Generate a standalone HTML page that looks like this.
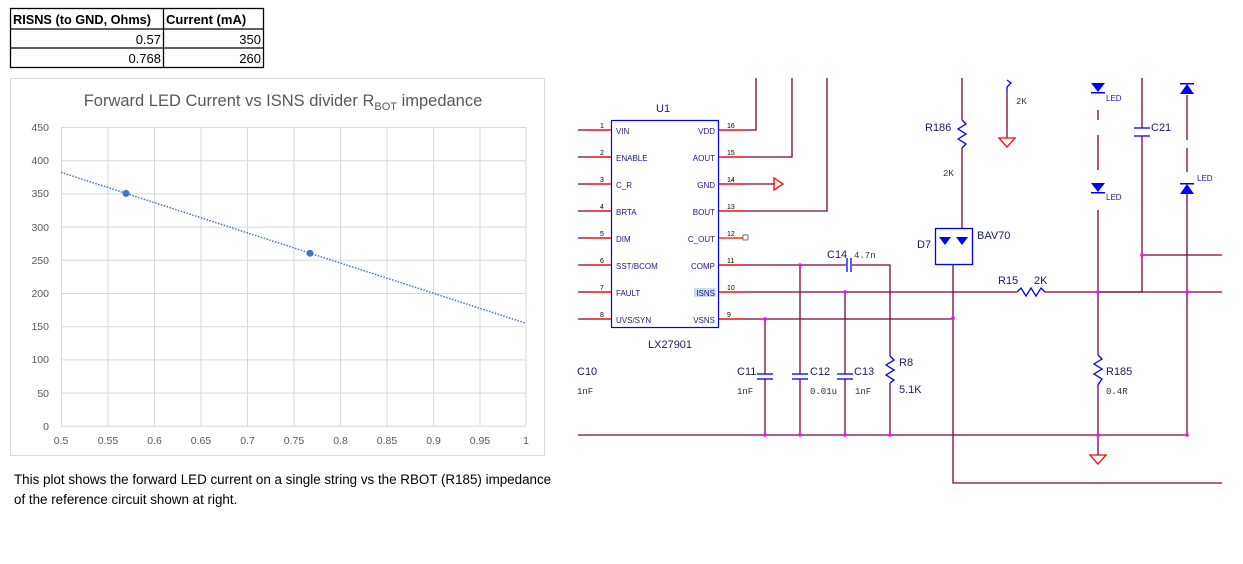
<!DOCTYPE html>
<html><head><meta charset="utf-8"><style>
body{margin:0;background:#fff;width:1243px;height:564px;overflow:hidden}
svg{display:block}
</style></head><body>
<svg width="1243" height="564" xmlns="http://www.w3.org/2000/svg" font-family="Liberation Sans, sans-serif">
<g stroke="#000" stroke-width="1.3" fill="none">
<rect x="10.5" y="8.5" width="253" height="59"/>
<line x1="10" y1="29" x2="263" y2="29"/><line x1="10" y1="48" x2="263" y2="48"/>
<line x1="163.5" y1="8" x2="163.5" y2="67"/>
</g>
<g font-size="13" fill="#000">
<text x="13" y="24" font-weight="bold" textLength="138" lengthAdjust="spacingAndGlyphs">RISNS (to GND, Ohms)</text>
<text x="166" y="24" font-weight="bold">Current (mA)</text>
<text x="161" y="44" text-anchor="end">0.57</text>
<text x="261" y="44" text-anchor="end">350</text>
<text x="161" y="63" text-anchor="end">0.768</text>
<text x="261" y="63" text-anchor="end">260</text>
</g>
<rect x="10.5" y="78.5" width="534" height="377" fill="#fff" stroke="#d9d9d9"/>
<text x="283" y="106" font-size="16.5" fill="#595959" text-anchor="middle">Forward LED Current vs ISNS divider R<tspan font-size="11" dy="4">BOT</tspan><tspan dy="-4"> impedance</tspan></text>
<g stroke="#d9d9d9" stroke-width="1">
<line x1="61" y1="127.5" x2="526" y2="127.5"/><line x1="61" y1="160.7" x2="526" y2="160.7"/>
<line x1="61" y1="193.9" x2="526" y2="193.9"/><line x1="61" y1="227.1" x2="526" y2="227.1"/>
<line x1="61" y1="260.3" x2="526" y2="260.3"/><line x1="61" y1="293.5" x2="526" y2="293.5"/>
<line x1="61" y1="326.7" x2="526" y2="326.7"/><line x1="61" y1="359.9" x2="526" y2="359.9"/>
<line x1="61" y1="393.1" x2="526" y2="393.1"/><line x1="61" y1="426.3" x2="526" y2="426.3"/>
<line x1="61.5" y1="127" x2="61.5" y2="426"/><line x1="108" y1="127" x2="108" y2="426"/>
<line x1="154.5" y1="127" x2="154.5" y2="426"/><line x1="201" y1="127" x2="201" y2="426"/>
<line x1="247.5" y1="127" x2="247.5" y2="426"/><line x1="294" y1="127" x2="294" y2="426"/>
<line x1="340.5" y1="127" x2="340.5" y2="426"/><line x1="387" y1="127" x2="387" y2="426"/>
<line x1="433.5" y1="127" x2="433.5" y2="426"/><line x1="480" y1="127" x2="480" y2="426"/>
<line x1="526" y1="127" x2="526" y2="426"/>
</g>
<g font-size="10.5" fill="#595959" text-anchor="end">
<text x="49" y="131">450</text><text x="49" y="164">400</text><text x="49" y="197">350</text>
<text x="49" y="231">300</text><text x="49" y="264">250</text><text x="49" y="297">200</text>
<text x="49" y="330">150</text><text x="49" y="363">100</text><text x="49" y="397">50</text>
<text x="49" y="430">0</text>
</g>
<g font-size="10.5" fill="#595959" text-anchor="middle">
<text x="61" y="444">0.5</text><text x="108" y="444">0.55</text><text x="154.5" y="444">0.6</text>
<text x="201" y="444">0.65</text><text x="247.5" y="444">0.7</text><text x="294" y="444">0.75</text>
<text x="340.5" y="444">0.8</text><text x="387" y="444">0.85</text><text x="433.5" y="444">0.9</text>
<text x="480" y="444">0.95</text><text x="526" y="444">1</text>
</g>
<line x1="61" y1="172.3" x2="526" y2="323.3" stroke="#4472c4" stroke-width="1.5" stroke-dasharray="1.5,1.5"/>
<circle cx="126" cy="193.4" r="3.5" fill="#4472c4"/>
<circle cx="310" cy="253.3" r="3.5" fill="#4472c4"/>
<text x="14" y="484" font-size="13.4" fill="#000">This plot shows the forward LED current on a single string vs the RBOT (R185) impedance</text>
<text x="14" y="504" font-size="13.4" fill="#000">of the reference circuit shown at right.</text>
<g stroke="#800040" stroke-width="1.3" fill="none">
<line x1="578" y1="130" x2="611" y2="130"/><line x1="578" y1="157" x2="611" y2="157"/>
<line x1="578" y1="184" x2="611" y2="184"/><line x1="578" y1="211" x2="611" y2="211"/>
<line x1="578" y1="238" x2="611" y2="238"/><line x1="578" y1="265" x2="611" y2="265"/>
<line x1="578" y1="292" x2="611" y2="292"/><line x1="578" y1="319" x2="611" y2="319"/>
<polyline points="719,130 756,130 756,78"/>
<polyline points="719,157 792,157 792,78"/>
<line x1="719" y1="184" x2="775" y2="184"/>
<polyline points="719,211 827,211 827,78"/>
<polyline points="719,265 846,265"/><polyline points="852,265 890,265 890,356"/>
<line x1="890" y1="383" x2="890" y2="435"/>
<line x1="719" y1="292" x2="1017" y2="292"/><line x1="1045" y1="292" x2="1222" y2="292"/>
<line x1="719" y1="319" x2="953" y2="319"/>
<line x1="578" y1="435" x2="1187" y2="435"/>
<line x1="765" y1="319" x2="765" y2="374"/><line x1="765" y1="379" x2="765" y2="435"/>
<line x1="800" y1="265" x2="800" y2="374"/><line x1="800" y1="379" x2="800" y2="435"/>
<line x1="845" y1="292" x2="845" y2="374"/><line x1="845" y1="379" x2="845" y2="435"/>
<line x1="962" y1="78" x2="962" y2="120"/><line x1="962" y1="148" x2="962" y2="228"/>
<polyline points="953,264 953,483 1222,483"/>
<line x1="1007" y1="92" x2="1007" y2="138"/>
<line x1="1098" y1="110" x2="1098" y2="120"/><line x1="1098" y1="135" x2="1098" y2="170"/>
<line x1="1098" y1="210" x2="1098" y2="355"/><line x1="1098" y1="385" x2="1098" y2="455"/>
<polyline points="1142,78 1142,128"/><polyline points="1142,136 1142,292 1098,292"/>
<line x1="1142" y1="255" x2="1222" y2="255"/>
<line x1="1187" y1="95" x2="1187" y2="140"/><line x1="1187" y1="148" x2="1187" y2="172"/>
<line x1="1187" y1="194" x2="1187" y2="435"/>
</g>
<g stroke="#f00" stroke-width="1.3" fill="none">
<line x1="588" y1="130" x2="611" y2="130"/><line x1="588" y1="157" x2="611" y2="157"/>
<line x1="588" y1="184" x2="611" y2="184"/><line x1="588" y1="211" x2="611" y2="211"/>
<line x1="588" y1="238" x2="611" y2="238"/><line x1="588" y1="265" x2="611" y2="265"/>
<line x1="588" y1="292" x2="611" y2="292"/><line x1="588" y1="319" x2="611" y2="319"/>
<line x1="719" y1="130" x2="745" y2="130"/><line x1="719" y1="157" x2="745" y2="157"/>
<line x1="719" y1="184" x2="745" y2="184"/><line x1="719" y1="211" x2="745" y2="211"/>
<line x1="719" y1="238" x2="743" y2="238"/><line x1="719" y1="265" x2="745" y2="265"/>
<line x1="719" y1="292" x2="745" y2="292"/><line x1="719" y1="319" x2="745" y2="319"/>
<polygon points="774,178 774,190 783,184"/>
<polygon points="999,138 1015,138 1007,147"/>
<polygon points="1090,455 1106,455 1098,464"/>
</g>
<rect x="743" y="235" width="5" height="5" fill="none" stroke="#555" stroke-width="0.8"/>
<rect x="611.5" y="120.5" width="107" height="207" fill="none" stroke="#00f" stroke-width="1.2"/>
<g font-size="8" fill="#1a1a80">
<text x="616" y="134">VIN</text><text x="616" y="161">ENABLE</text><text x="616" y="188">C_R</text>
<text x="616" y="215">BRTA</text><text x="616" y="242">DIM</text><text x="616" y="269">SST/BCOM</text>
<text x="616" y="296">FAULT</text><text x="616" y="323">UVS/SYN</text>
</g>
<g font-size="8" fill="#1a1a80" text-anchor="end">
<text x="715" y="134">VDD</text><text x="715" y="161">AOUT</text><text x="715" y="188">GND</text>
<text x="715" y="215">BOUT</text><text x="715" y="242">C_OUT</text><text x="715" y="269">COMP</text>
<rect x="694" y="288" width="22" height="9" fill="#cde"/><text x="715" y="296">ISNS</text>
<text x="715" y="323">VSNS</text>
</g>
<g font-size="7" fill="#000">
<text x="600" y="128">1</text><text x="600" y="155">2</text><text x="600" y="182">3</text><text x="600" y="209">4</text>
<text x="600" y="236">5</text><text x="600" y="263">6</text><text x="600" y="290">7</text><text x="600" y="317">8</text>
<text x="727" y="128">16</text><text x="727" y="155">15</text><text x="727" y="182">14</text><text x="727" y="209">13</text>
<text x="727" y="236">12</text><text x="727" y="263">11</text><text x="727" y="290">10</text><text x="727" y="317">9</text>
</g>
<g font-size="11" fill="#1a1a60">
<text x="656" y="112">U1</text><text x="648" y="348">LX27901</text>
<text x="827" y="258">C14</text><text x="737" y="375">C11</text><text x="810" y="375">C12</text>
<text x="854" y="375">C13</text><text x="899" y="366">R8</text><text x="899" y="393">5.1K</text>
<text x="577" y="375">C10</text><text x="925" y="131">R186</text><text x="917" y="248">D7</text>
<text x="977" y="239">BAV70</text><text x="998" y="284">R15</text><text x="1034" y="284">2K</text>
<text x="1151" y="131">C21</text><text x="1106" y="375">R185</text>
</g>
<g font-size="9" fill="#333" font-family="Liberation Mono, monospace">
<text x="854" y="258">4.7n</text><text x="577" y="394">1nF</text><text x="737" y="394">1nF</text>
<text x="810" y="394">0.01u</text><text x="855" y="394">1nF</text><text x="1106" y="394">0.4R</text>
<text x="943" y="176">2K</text><text x="1016" y="104">2K</text>
</g>
<g stroke="#00f" stroke-width="1.3" fill="none">
<line x1="757" y1="374" x2="773" y2="374"/><line x1="757" y1="379" x2="773" y2="379"/>
<line x1="792" y1="374" x2="808" y2="374"/><line x1="792" y1="379" x2="808" y2="379"/>
<line x1="837" y1="374" x2="853" y2="374"/><line x1="837" y1="379" x2="853" y2="379"/>
<line x1="847" y1="258" x2="847" y2="272"/><line x1="851" y1="258" x2="851" y2="272"/>
<line x1="1134" y1="128" x2="1150" y2="128"/><line x1="1134" y1="136" x2="1150" y2="136"/>
<polyline points="890,356 894,360 886,365 894,370 886,375 894,380 890,383"/>
<polyline points="962,120 966,124 958,129 966,134 958,139 966,144 962,148"/>
<polyline points="1098,355 1102,359 1094,364 1102,369 1094,374 1102,379 1098,385"/>
<polyline points="1017,292 1021,288 1026,296 1031,288 1036,296 1041,288 1045,292"/>
<polyline points="1007,92 1007,87 1011,83 1007,80"/>
<rect x="935.5" y="228.5" width="37" height="36"/>
</g>
<g fill="#00f">
<polygon points="1091,83 1105,83 1098,92"/><rect x="1091" y="92" width="14" height="1.5"/>
<polygon points="1091,183 1105,183 1098,192"/><rect x="1091" y="192" width="14" height="1.5"/>
<polygon points="1180,94 1194,94 1187,84"/><rect x="1180" y="83" width="14" height="1.5"/>
<polygon points="1180,194 1194,194 1187,184"/><rect x="1180" y="183" width="14" height="1.5"/>
<polygon points="939,237 951,237 945,245"/><polygon points="956,237 968,237 962,245"/>
</g>
<g font-size="8" fill="#1a1a80"><text x="1106" y="101">LED</text><text x="1106" y="200">LED</text><text x="1197" y="181">LED</text></g>
<g fill="#f0f">
<circle cx="765" cy="319" r="1.8"/><circle cx="800" cy="265" r="1.8"/><circle cx="845" cy="292" r="1.8"/>
<circle cx="765" cy="435" r="1.8"/><circle cx="800" cy="435" r="1.8"/><circle cx="845" cy="435" r="1.8"/>
<circle cx="890" cy="435" r="1.8"/><circle cx="953" cy="318" r="1.8"/><circle cx="1098" cy="292" r="1.8"/>
<circle cx="1142" cy="255" r="1.8"/><circle cx="1187" cy="292" r="1.8"/><circle cx="1098" cy="435" r="1.8"/>
<circle cx="1187" cy="435" r="1.8"/>
</g>
</svg>
</body></html>
